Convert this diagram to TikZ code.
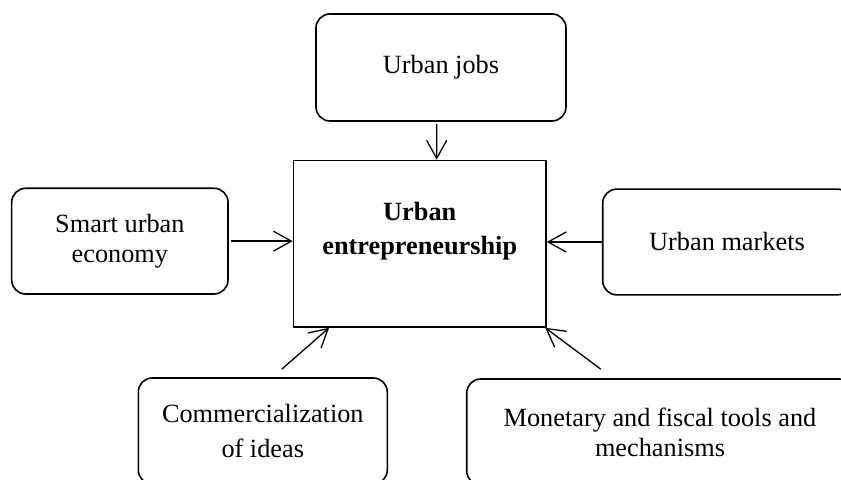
\documentclass[tikz,border=0pt]{standalone}
\usepackage{fontspec}
\setmainfont{Liberation Serif}
\usetikzlibrary{arrows.meta}
\tikzset{
  card/.style={draw, line width=1.6bp, rounded corners=14bp, align=center, inner sep=0pt},
  core/.style={draw, line width=1.6bp, inner sep=0pt},
  feed/.style={line width=1.3bp, -{Straight Barb[length=18bp,width=20bp]}},
}

\begin{document}
\begin{tikzpicture}[x=1bp, y=1bp, font=\fontsize{26.3bp}{30bp}\selectfont]
        \clip (0,0) rectangle (841,480);
        % boxes
        \node[core, minimum width=252.5bp, minimum height=166.5bp] (ue) at (419.75,236.25) {};
        \node[align=center, font=\fontsize{26.3bp}{34bp}\selectfont\bfseries] (uetext) at (419.75,249) {Urban\\entrepreneurship};
        \node[card, minimum width=250bp, minimum height=107bp] (jobs) at (441,412.5) {Urban jobs};
        \node[card, minimum width=216.3bp, minimum height=105.7bp] (smart) at (119.85,238.85) {Smart urban\\economy};
        \node[card, minimum width=248.6bp, minimum height=105.7bp] (markets) at (727,238) {Urban markets};
        \node[card, minimum width=249bp, minimum height=106bp] (comm) at (262.8,49) {Commercialization\\[5bp]of ideas};
        \node[card, minimum width=386.6bp, minimum height=106bp] (monetary) at (660,48) {Monetary and fiscal tools and\\mechanisms};

        % arrows
        \draw[feed] ([shift={(-4.3,-2)}]jobs.south) -- ([xshift=17]ue.north);
        \draw[feed] ([xshift=2.7]smart.east) -- (smart.east -| ue.west);
        \draw[feed] (markets.west) -- (markets.west -| ue.east);
        \draw[feed] ([shift={(19,8)}]comm.north) -- ([xshift=36.5]ue.south west);
        \draw[feed] ([shift={(-59.2,9)}]monetary.north) -- ([xshift=-1.6]ue.south east);
    \end{tikzpicture}
\end{document}
